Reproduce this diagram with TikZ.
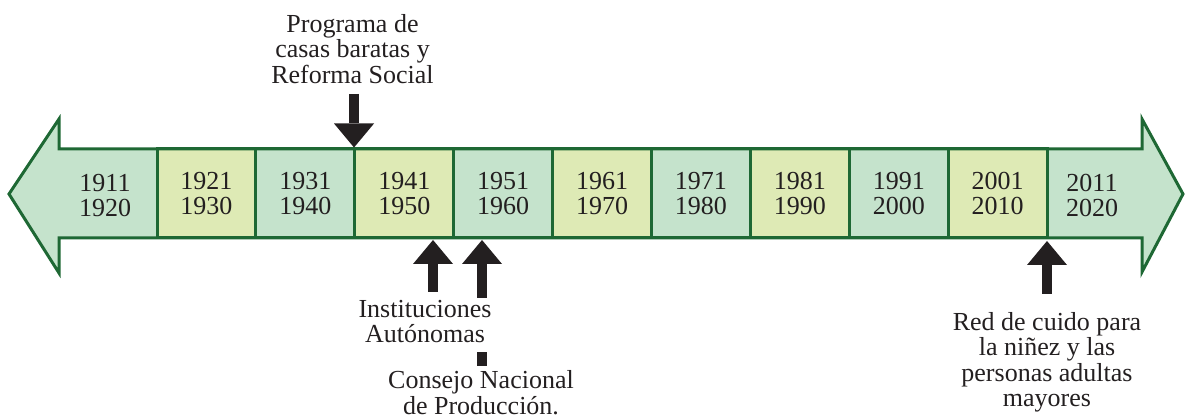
\documentclass[tikz,border=0pt]{standalone}
\usepackage{fontspec}
\setmainfont{Liberation Serif}
\usetikzlibrary{arrows.meta}
\definecolor{edgegreen}{RGB}{30,104,52}
\definecolor{gfill}{RGB}{197,227,204}
\definecolor{yfill}{RGB}{222,234,181}
\definecolor{inkc}{RGB}{35,31,32}
\newcommand{\tlfont}{\fontsize{26}{25.5}\selectfont}
\begin{document}
\begin{tikzpicture}[x=1pt,y=-1pt,
  yearbox/.style={draw=edgegreen, line width=3pt, minimum width=98.9pt, minimum height=89pt,
    inner sep=0pt, align=center, font=\tlfont, text=inkc},
  gbox/.style={yearbox, fill=gfill},
  ybox/.style={yearbox, fill=yfill},
  yeartext/.style={inner sep=0pt, align=center, font=\tlfont, text=inkc},
  lbl/.style={inner sep=0pt, align=center, font=\tlfont, text=inkc, anchor=north},
  blockarrow/.style={draw=inkc, line width=10pt, -{Triangle[width=40pt,length=24pt,line width=0pt]}}
]
\useasboundingbox (0,0) rectangle (1187,419);
% arrow ends
\fill[gfill] (9,194) -- (59,119) -- (59,149) -- (157,149) -- (157,238) -- (59,238) -- (59,273) -- cycle;
\fill[gfill] (1047,149) -- (1142,149) -- (1142,119) -- (1183,194) -- (1142,272) -- (1142,238) -- (1047,238) -- cycle;
% decade boxes
\node[ybox] (b1921) at (206.45,193.5) {1921\\1930};
\node[gbox] (b1931) at (305.35,193.5) {1931\\1940};
\node[ybox] (b1941) at (404.25,193.5) {1941\\1950};
\node[gbox] (b1951) at (503.15,193.5) {1951\\1960};
\node[ybox] (b1961) at (602.05,193.5) {1961\\1970};
\node[gbox] (b1971) at (700.95,193.5) {1971\\1980};
\node[ybox] (b1981) at (799.85,193.5) {1981\\1990};
\node[gbox] (b1991) at (898.75,193.5) {1991\\2000};
\node[ybox] (b2001) at (997.65,193.5) {2001\\2010};
\node[yeartext] (b1911) at (105,195.5) {1911\\1920};
\node[yeartext] (b2011) at (1092,195.5) {2011\\2020};
% outline
\draw[edgegreen, line width=3pt, line join=miter]
  (9,194) -- (59,119) -- (59,149) -- (1142,149) -- (1142,119) -- (1183,194)
  -- (1142,272) -- (1142,238) -- (59,238) -- (59,273) -- cycle;
% labels
\node[lbl] (lprog) at (352.5,14) {Programa de\\casas baratas y\\Reforma Social};
\node[lbl] (linst) at (425,300) {Instituciones\\Autónomas};
\node[lbl] (lcons) at (481,370.5) {Consejo Nacional\\de Producción.};
\node[lbl] (lred) at (1047,312) {Red de cuido para\\la niñez y las\\personas adultas\\mayores};
% pointer arrows
\coordinate (sprog) at (354,94);
\coordinate (tprog) at (354,147.5);
\coordinate (sinst) at (433,292);
\coordinate (tinst) at (433,240);
\coordinate (scons) at (482,298);
\coordinate (tcons) at (482,240);
\coordinate (sred) at (1047,294);
\coordinate (tred) at (1047,241);
\draw[blockarrow] (sprog) -- (tprog);
\draw[blockarrow] (sinst) -- (tinst);
\draw[blockarrow] (scons) -- (tcons);
\draw[blockarrow] (sred) -- (tred);
\fill[inkc] (476.5,352) rectangle (487,366);
\end{tikzpicture}
\end{document}
